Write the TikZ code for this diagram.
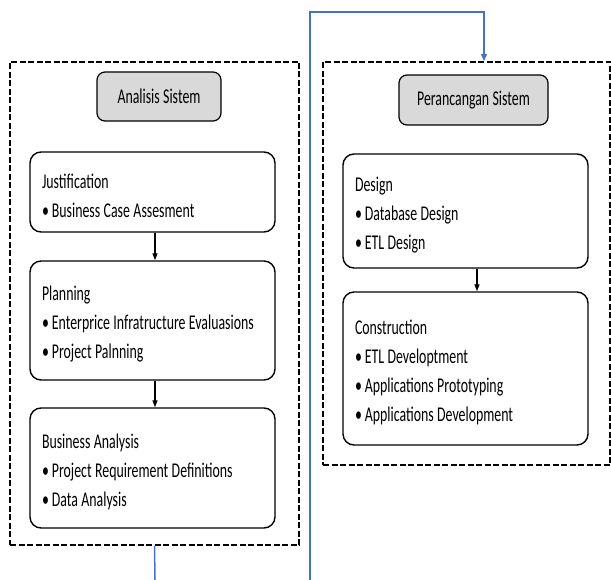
\documentclass[tikz,border=0pt]{standalone}
\usepackage{fontspec}
\setmainfont{Carlito}[FakeStretch=0.66]
\usetikzlibrary{arrows.meta}

\definecolor{linkblue}{HTML}{4472C4}
\definecolor{titlegray}{HTML}{D9D9D9}
\newcommand{\tightspace}{\spaceskip=3.4pt\relax}

\begin{document}
\begin{tikzpicture}[x=1pt, y=1pt,
    every node/.style={font=\fontsize{21}{29}\selectfont},
    phase/.style={draw, line width=1.9pt, dash pattern=on 6pt off 2.5pt},
    title/.style={draw, line width=1.2pt, fill=titlegray, rounded corners=8pt,
                  execute at begin node={\tightspace}},
    stage/.style={draw, line width=1.4pt, rounded corners=11pt, align=left,
                  inner xsep=12pt, text width=221pt,
                  execute at begin node={\tightspace\rule{0pt}{22pt}}},
    flow/.style={-{Triangle[width=5pt,length=7pt]}, line width=1.3pt},
    link/.style={draw=linkblue, line width=1.5pt}]
    \useasboundingbox (0,0) rectangle (611,-580);

    % Phases.
    \node[phase, minimum width=289, minimum height=483] (analisis) at (154.5,-303.5) {};
    \node[phase, minimum width=287, minimum height=403] (perancangan) at (466.5,-263.5) {};

    % Titles.
    \node[title, minimum width=124, minimum height=49] (analisistitle) at (159,-96.5) {Analisis Sistem};
    \node[title, minimum width=149, minimum height=50] (perancangantitle) at (473.5,-100) {Perancangan Sistem};

    % Analisis stages.
    \node[stage, minimum height=80] (justification) at (152.5,-192)
        {Justification\\\textbullet\hspace{3pt}Business Case Assesment};
    \node[stage, minimum height=119] (planning) at (152.5,-320.5)
        {Planning\\\textbullet\hspace{3pt}Enterprice Infratructure Evaluasions\\\textbullet\hspace{3pt}Project Palnning};
    \node[stage, minimum height=120] (business) at (152.5,-468)
        {Business Analysis\\\textbullet\hspace{3pt}Project Requirement Definitions\\\textbullet\hspace{3pt}Data Analysis};

    % Perancangan stages.
    \node[stage, minimum height=114] (design) at (465.5,-211)
        {Design\\\textbullet\hspace{3pt}Database Design\\\textbullet\hspace{3pt}ETL Design};
    \node[stage, minimum height=153] (construction) at (465.5,-368.5)
        {Construction\\\textbullet\hspace{3pt}ETL Developtment\\\textbullet\hspace{3pt}Applications Prototyping\\\textbullet\hspace{3pt}Applications Development};

    % Arrows between stages.
    \draw[flow] ([xshift=2.5]justification.south) -- ([xshift=2.5]planning.north);
    \draw[flow] ([xshift=2.5]planning.south) -- ([xshift=2.5]business.north);
    \draw[flow] ([xshift=11.5]design.south) -- ([xshift=11.5]construction.north);

    % Link between phases.
    \coordinate (leftend) at (155,-580);
    \coordinate (rightend) at (310,-580);
    \coordinate (turn) at (484,-12);
    \draw[link] (analisis.south) -- (leftend);
    \draw[link, -{Triangle[width=6pt,length=7pt]}] (rightend) |- (turn) -- (turn |- perancangan.north);
\end{tikzpicture}
\end{document}
